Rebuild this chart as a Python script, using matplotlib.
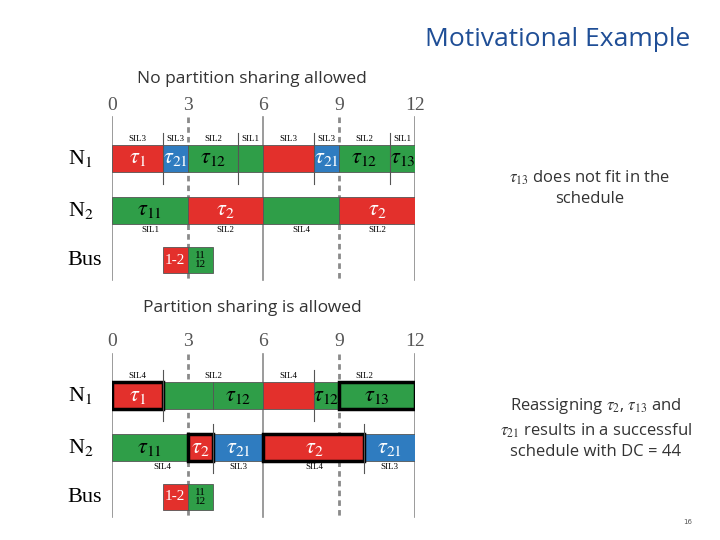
import matplotlib.pyplot as plt
from matplotlib.patches import Rectangle

plt.rcParams['mathtext.fontset'] = 'stix'

RED, GREEN, BLUE = '#e3302c', '#2f9e48', '#2f7cc0'
COL = {'r': RED, 'g': GREEN, 'b': BLUE}

time_ticks = [0, 3, 6, 9, 12]

# (start, end, colour, label, bold border)
top_n1 = [(0, 2, 'r', r'$\tau_1$', False), (2, 3, 'b', r'$\tau_{21}$', False),
          (3, 5, 'g', r'$\tau_{12}$', False), (5, 6, 'g', '', False),
          (6, 8, 'r', '', False), (8, 9, 'b', r'$\tau_{21}$', False),
          (9, 11, 'g', r'$\tau_{12}$', False), (11, 12, 'g', r'$\tau_{13}$', False)]
top_n1_sil = [(1, 'SIL3'), (2.5, 'SIL3'), (4, 'SIL2'), (5.5, 'SIL1'),
              (7, 'SIL3'), (8.5, 'SIL3'), (10, 'SIL2'), (11.5, 'SIL1')]
top_n1_marks = [2, 5, 8, 11]
top_n2 = [(0, 3, 'g', r'$\tau_{11}$', False), (3, 6, 'r', r'$\tau_2$', False),
          (6, 9, 'g', '', False), (9, 12, 'r', r'$\tau_2$', False)]
top_n2_sil = [(1.5, 'SIL1'), (4.5, 'SIL2'), (7.5, 'SIL4'), (10.5, 'SIL2')]
top_n2_marks = []

bot_n1 = [(0, 2, 'r', r'$\tau_1$', True), (2, 4, 'g', '', False),
          (4, 6, 'g', r'$\tau_{12}$', False), (6, 8, 'r', '', False),
          (8, 9, 'g', r'$\tau_{12}$', False), (9, 12, 'g', r'$\tau_{13}$', True)]
bot_n1_sil = [(1, 'SIL4'), (4, 'SIL2'), (7, 'SIL4'), (10, 'SIL2')]
bot_n1_marks = [2, 8]
bot_n2 = [(0, 3, 'g', r'$\tau_{11}$', False), (3, 4, 'r', r'$\tau_2$', True),
          (4, 6, 'b', r'$\tau_{21}$', False), (6, 10, 'r', r'$\tau_2$', True),
          (10, 12, 'b', r'$\tau_{21}$', False)]
bot_n2_sil = [(2, 'SIL4'), (5, 'SIL3'), (8, 'SIL4'), (11, 'SIL3')]
bot_n2_marks = [4, 10]

bus = [(2, 3, 'r', '1-2'), (3, 4, 'g', '11\n12')]

fig = plt.figure(figsize=(7.2, 5.4), dpi=100)
ax = fig.add_axes([112 / 720, 0, 303 / 720, 1])
ax.set_xlim(0, 12)
ax.set_ylim(540, 0)
ax.axis('off')
serif = 'Liberation Serif'


def draw(y0, n1, n1_sil, n1_marks, n2, n2_sil, n2_marks):
    # y0: pixel y of tick labels
    top, bottom = y0 + 12, y0 + 175
    for t in time_ticks:
        ax.text(t, y0, str(t), ha='center', va='center', fontsize=14,
                family=serif, color='#555555')
        dashed = t in (3, 9)
        ax.plot([t, t], [top, bottom], color='#8a8a8a', lw=2 if dashed else 1.2,
                ls=(0, (2, 1.5)) if dashed else '-', zorder=1)
    r1, r2, rb = y0 + 40, y0 + 92, y0 + 142
    h = 27
    for rows, y, sil, marks, above in ((n1, r1, n1_sil, n1_marks, True),
                                       (n2, r2, n2_sil, n2_marks, False)):
        for s, e, c, lab, bold in rows:
            ax.add_patch(Rectangle((s, y), e - s, h, facecolor=COL[c],
                                   edgecolor='black' if bold else '#555555',
                                   lw=2.5 if bold else 0.6, zorder=3 if bold else 2))
            if lab:
                ax.text((s + e) / 2, y + h / 2, lab, ha='center', va='center',
                        fontsize=16, color='black' if c == 'g' else 'white', zorder=4)
        for x, t in sil:
            ax.text(x, y - 6 if above else y + h + 6, t, ha='center', va='center',
                    fontsize=6.5, family=serif, color='black')
        for m in marks:
            ya, yb = (y - 12, y + h + 12) if above else (y - 10, y + h + 12)
            ax.plot([m, m], [ya, yb], color='#555555', lw=0.8, zorder=3)
    for s, e, c, lab in bus:
        ax.add_patch(Rectangle((s, rb), e - s, 26, facecolor=COL[c],
                               edgecolor='#555555', lw=0.6, zorder=2))
        ax.text((s + e) / 2, rb + 13, lab, ha='center', va='center',
                fontsize=11 if '\n' not in lab else 8, family=serif,
                color='white' if c == 'r' else 'black', linespacing=0.9, zorder=4)
    for lab, y in (('N$_1$', r1), ('N$_2$', r2), ('Bus', rb)):
        ax.text(-1.75, y + h / 2, lab, ha='left', va='center', fontsize=16,
                family=serif, color='black', clip_on=False)


draw(105, top_n1, top_n1_sil, top_n1_marks, top_n2, top_n2_sil, top_n2_marks)
draw(342, bot_n1, bot_n1_sil, bot_n1_marks, bot_n2, bot_n2_sil, bot_n2_marks)

fig.text(690 / 720, 1 - 40 / 540, 'Motivational Example', ha='right', va='center',
         fontsize=19, color='#1f4e96', family='Open Sans')
fig.text(252 / 720, 1 - 79 / 540, 'No partition sharing allowed', ha='center',
         va='center', fontsize=12.5, color='#333333', family='Open Sans')
fig.text(252 / 720, 1 - 308 / 540, 'Partition sharing is allowed', ha='center',
         va='center', fontsize=12.5, color='#333333', family='Open Sans')
fig.text(590 / 720, 1 - 188 / 540, r'$\tau_{13}$ does not fit in the' + '\nschedule',
         ha='center', va='center', fontsize=12, color='#333333', family='Open Sans',
         linespacing=1.3)
fig.text(596 / 720, 1 - 428 / 540,
         r'Reassigning $\tau_2$, $\tau_{13}$ and' + '\n' + r'$\tau_{21}$ results in a successful'
         + '\nschedule with DC = 44', ha='center', va='center', fontsize=12,
         color='#333333', family='Open Sans', linespacing=1.4)
fig.text(688 / 720, 1 - 522 / 540, '16', ha='center', va='center', fontsize=5,
         color='#555555')

fig.savefig('out.png', dpi=100)
